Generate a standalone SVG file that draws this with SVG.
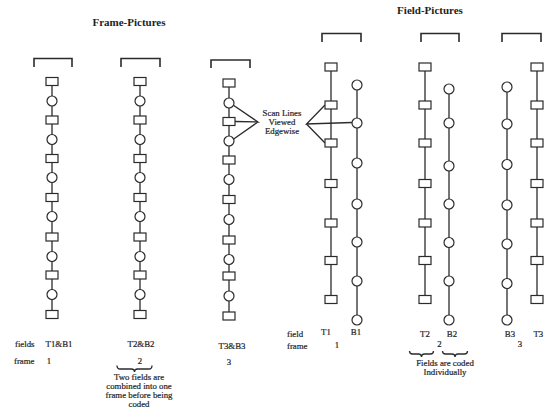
<svg xmlns="http://www.w3.org/2000/svg" xmlns:xlink="http://www.w3.org/1999/xlink" width="544" height="409" viewBox="0 0 544 409">
  <style>
    .ln { stroke: #2b2b2b; stroke-width: 1.3; fill: none; }
    .br { stroke: #2b2b2b; stroke-width: 1.6; fill: none; }
    .nd { stroke: #2b2b2b; stroke-width: 1.2; fill: #ffffff; }
    .title { font-family: "Liberation Serif", "Times New Roman", serif; font-weight: bold; font-size: 11px; fill: #1e1e1e; text-anchor: middle; }
    .lbl { font-family: "Liberation Serif", "Times New Roman", serif; font-size: 8.8px; fill: #1e1e1e; stroke: #1e1e1e; stroke-width: 0.2; }
    .mid { text-anchor: middle; }
  </style>
  <defs>
    <rect id="sq" class="nd" x="-6" y="-4" width="12" height="8"/>
    <circle id="ci" class="nd" r="5"/>
  </defs>

  <rect width="544" height="409" fill="#ffffff"/>

  <!-- headings -->
  <text class="title" x="129" y="26">Frame-Pictures</text>
  <text class="title" x="430" y="13.5">Field-Pictures</text>

  <!-- brackets above each picture -->
  <g id="brackets">
    <path class="br" d="M34 67 V58.5 H72 V67"/>
    <path class="br" d="M121 67 V58.5 H160 V67"/>
    <path class="br" d="M211 68 V60 H250 V68"/>
    <path class="br" d="M322 42 V33.5 H361 V42"/>
    <path class="br" d="M421 42 V33.5 H459 V42"/>
    <path class="br" d="M502 42 V33.5 H541 V42"/>
  </g>

  <!-- connectors: scan-line spines and pointer fans -->
  <g id="connectors">
    <line class="ln" x1="52" y1="81.5" x2="52" y2="314.5"/>
    <line class="ln" x1="140" y1="81.5" x2="140" y2="314.5"/>
    <line class="ln" x1="229" y1="83" x2="229" y2="316"/>
    <line class="ln" x1="331" y1="67" x2="331" y2="299.5"/>
    <line class="ln" x1="357" y1="85" x2="357" y2="320"/>
    <line class="ln" x1="425" y1="67" x2="425" y2="299.5"/>
    <line class="ln" x1="449" y1="89" x2="449" y2="320"/>
    <line class="ln" x1="507" y1="87" x2="507" y2="320"/>
    <line class="ln" x1="537" y1="67" x2="537" y2="299.5"/>
    <!-- fan to frame picture 3 -->
    <path class="ln" d="M233 105 L258 122 L235 121.5 M258 122 L233 139.5"/>
    <!-- fan to field picture 1 -->
    <path class="ln" d="M325 105 L306.5 124 L352 122.5 M306.5 124 L325 143"/>
  </g>

  <!-- frame picture 1: T1&B1 -->
  <g id="frame1">
    <use href="#sq" x="52" y="81.5"/><use href="#ci" x="52" y="101"/>
    <use href="#sq" x="52" y="120"/><use href="#ci" x="52" y="139.5"/>
    <use href="#sq" x="52" y="158.5"/><use href="#ci" x="52" y="177.5"/>
    <use href="#sq" x="52" y="197.5"/><use href="#ci" x="52" y="216.5"/>
    <use href="#sq" x="52" y="237"/><use href="#ci" x="52" y="256.5"/>
    <use href="#sq" x="52" y="275"/><use href="#ci" x="52" y="294.5"/>
    <use href="#sq" x="52" y="314.5"/>
  </g>

  <!-- frame picture 2: T2&B2 -->
  <g id="frame2">
    <use href="#sq" x="140" y="81.5"/><use href="#ci" x="140" y="101"/>
    <use href="#sq" x="140" y="120"/><use href="#ci" x="140" y="139.5"/>
    <use href="#sq" x="140" y="158.5"/><use href="#ci" x="140" y="177.5"/>
    <use href="#sq" x="140" y="197.5"/><use href="#ci" x="140" y="216.5"/>
    <use href="#sq" x="140" y="237"/><use href="#ci" x="140" y="256.5"/>
    <use href="#sq" x="140" y="275"/><use href="#ci" x="140" y="294.5"/>
    <use href="#sq" x="140" y="314.5"/>
  </g>

  <!-- frame picture 3: T3&B3 -->
  <g id="frame3">
    <use href="#sq" x="229" y="83"/><use href="#ci" x="229" y="103"/>
    <use href="#sq" x="229" y="121.5"/><use href="#ci" x="229" y="141"/>
    <use href="#sq" x="229" y="160"/><use href="#ci" x="229" y="179.5"/>
    <use href="#sq" x="229" y="199.5"/><use href="#ci" x="229" y="219.5"/>
    <use href="#sq" x="229" y="240"/><use href="#ci" x="229" y="259.5"/>
    <use href="#sq" x="229" y="276"/><use href="#ci" x="229" y="296"/>
    <use href="#sq" x="229" y="316"/>
  </g>

  <!-- field T1 -->
  <g id="fieldT1">
    <use href="#sq" x="331" y="67"/><use href="#sq" x="331" y="105"/>
    <use href="#sq" x="331" y="143"/><use href="#sq" x="331" y="183.5"/>
    <use href="#sq" x="331" y="223"/><use href="#sq" x="331" y="260.5"/>
    <use href="#sq" x="331" y="299.5"/>
  </g>
  <!-- field B1 -->
  <g id="fieldB1">
    <use href="#ci" x="357" y="85"/><use href="#ci" x="357" y="123"/>
    <use href="#ci" x="357" y="163"/><use href="#ci" x="357" y="204"/>
    <use href="#ci" x="357" y="242"/><use href="#ci" x="357" y="281"/>
    <use href="#ci" x="357" y="320"/>
  </g>
  <!-- field T2 -->
  <g id="fieldT2">
    <use href="#sq" x="425" y="67"/><use href="#sq" x="425" y="105"/>
    <use href="#sq" x="425" y="143"/><use href="#sq" x="425" y="183.5"/>
    <use href="#sq" x="425" y="223"/><use href="#sq" x="425" y="260.5"/>
    <use href="#sq" x="425" y="299.5"/>
  </g>
  <!-- field B2 -->
  <g id="fieldB2">
    <use href="#ci" x="449" y="89"/><use href="#ci" x="449" y="123"/>
    <use href="#ci" x="449" y="166"/><use href="#ci" x="449" y="204"/>
    <use href="#ci" x="449" y="242.5"/><use href="#ci" x="449" y="281"/>
    <use href="#ci" x="449" y="320"/>
  </g>
  <!-- field B3 -->
  <g id="fieldB3">
    <use href="#ci" x="507" y="87"/><use href="#ci" x="507" y="124"/>
    <use href="#ci" x="507" y="164.5"/><use href="#ci" x="507" y="205"/>
    <use href="#ci" x="507" y="244"/><use href="#ci" x="507" y="283.5"/>
    <use href="#ci" x="507" y="320"/>
  </g>
  <!-- field T3 -->
  <g id="fieldT3">
    <use href="#sq" x="537" y="67"/><use href="#sq" x="537" y="105"/>
    <use href="#sq" x="537" y="143"/><use href="#sq" x="537" y="183.5"/>
    <use href="#sq" x="537" y="223"/><use href="#sq" x="537" y="260.5"/>
    <use href="#sq" x="537" y="299.5"/>
  </g>

  <!-- scan line callout -->
  <g id="scanLabel">
    <text class="lbl mid" x="282" y="116">Scan Lines</text>
    <text class="lbl mid" x="282" y="125">Viewed</text>
    <text class="lbl mid" x="282" y="134">Edgewise</text>
  </g>

  <!-- frame-picture captions -->
  <g id="frameCaptions">
    <text class="lbl" x="15" y="347">fields</text>
    <text class="lbl" x="14" y="364">frame</text>
    <text class="lbl mid" x="59" y="347">T1&amp;B1</text>
    <text class="lbl mid" x="49" y="364">1</text>
    <text class="lbl mid" x="141" y="347">T2&amp;B2</text>
    <text class="lbl mid" x="140" y="364">2</text>
    <path class="ln" stroke-width="1.1" d="M117 365.5 Q117 369 120 369 H131.5 Q134.5 369 134.5 372 Q134.5 369 137.5 369 H149 Q152 369 152 365.5"/>
    <text class="lbl mid" x="139" y="380">Two fields are</text>
    <text class="lbl mid" x="139" y="389">combined into one</text>
    <text class="lbl mid" x="139" y="398">frame before being</text>
    <text class="lbl mid" x="139" y="407">coded</text>
    <text class="lbl mid" x="232" y="349">T3&amp;B3</text>
    <text class="lbl mid" x="229" y="365">3</text>
  </g>

  <!-- field-picture captions -->
  <g id="fieldCaptions">
    <text class="lbl" x="287" y="337">field</text>
    <text class="lbl" x="287" y="349">frame</text>
    <text class="lbl mid" x="326" y="335">T1</text>
    <text class="lbl mid" x="356" y="335">B1</text>
    <text class="lbl mid" x="337" y="348">1</text>
    <text class="lbl mid" x="425" y="337">T2</text>
    <text class="lbl mid" x="452" y="337">B2</text>
    <text class="lbl mid" x="439.5" y="347">2</text>
    <path class="ln" stroke-width="1.1" d="M409.5 351 Q409.5 354 412.5 354 H418.5 Q421.5 354 421.5 357 Q421.5 354 424.5 354 H430.5 Q433.5 354 433.5 351"/>
    <path class="ln" stroke-width="1.1" d="M442.5 351 Q442.5 354 445.5 354 H452 Q455 354 455 357 Q455 354 458 354 H464.5 Q467.5 354 467.5 351"/>
    <text class="lbl mid" x="445" y="366">Fields are  coded</text>
    <text class="lbl mid" x="445" y="375">Individually</text>
    <text class="lbl mid" x="510" y="337">B3</text>
    <text class="lbl mid" x="520" y="347">3</text>
    <text class="lbl" x="533.5" y="337">T3</text>
  </g>
</svg>
